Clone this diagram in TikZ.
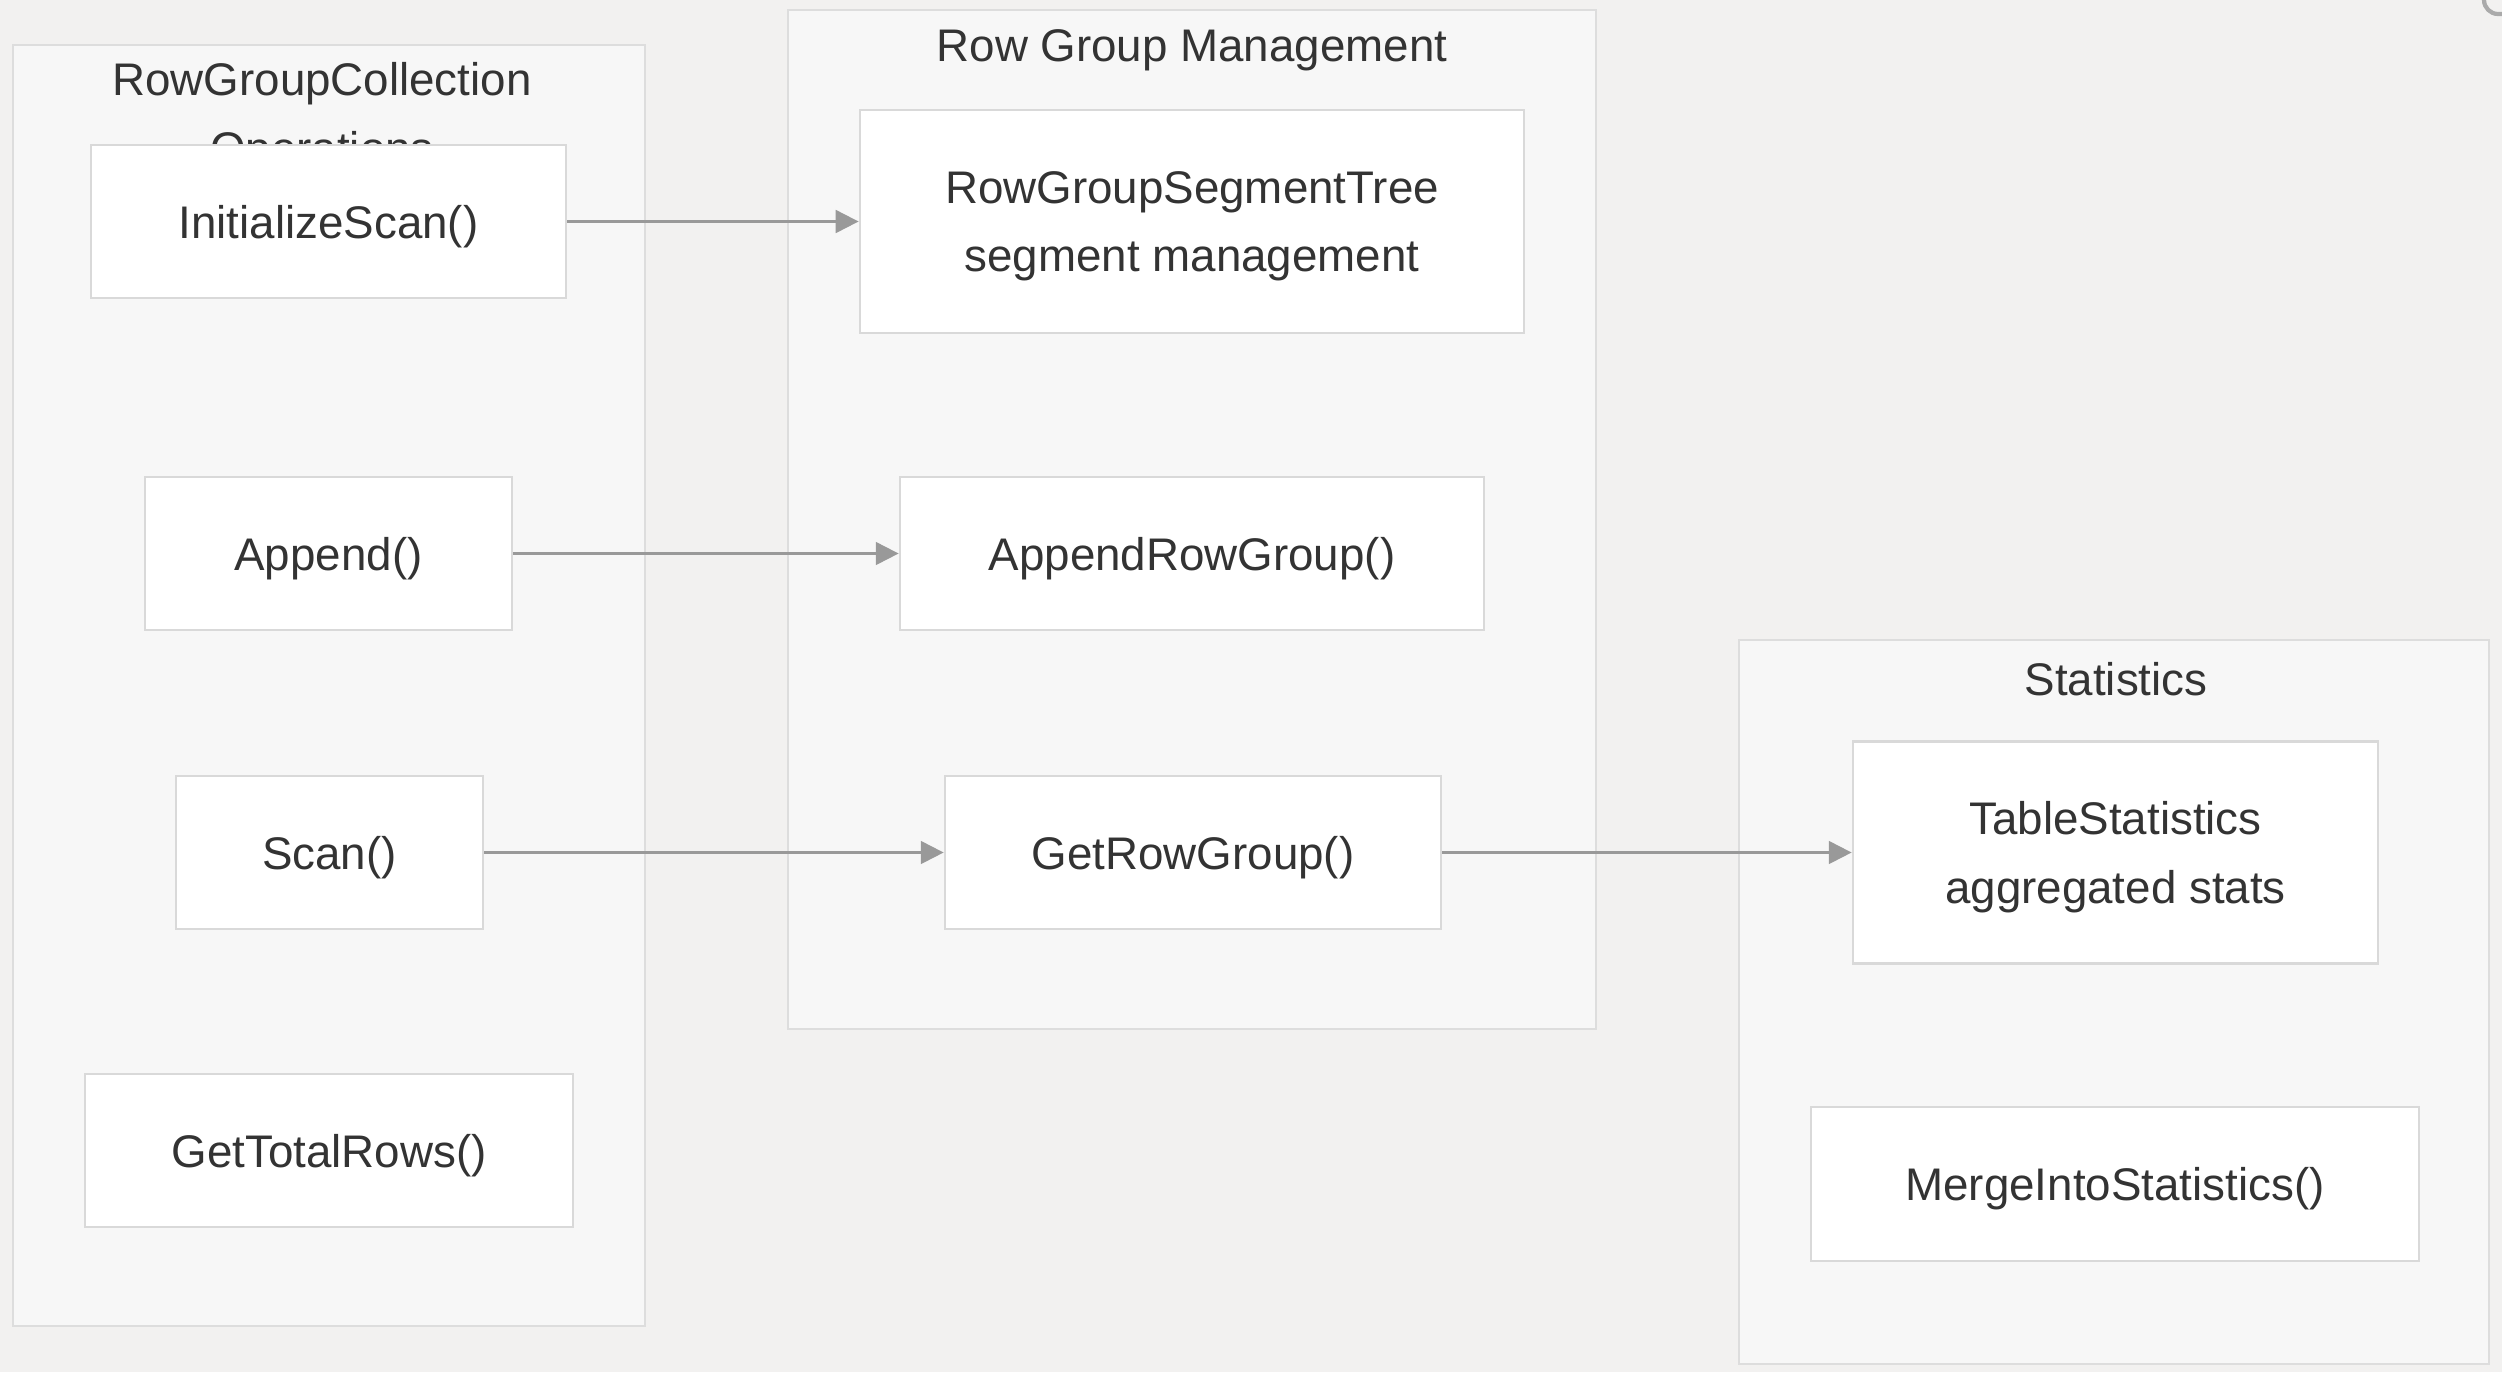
\documentclass[tikz,border=0pt]{standalone}
\usepackage{fontspec}
\setmainfont{Liberation Sans}
\usetikzlibrary{arrows.meta}
\definecolor{bgc}{HTML}{F2F1F0}
\definecolor{clfill}{HTML}{F7F7F7}
\definecolor{cldraw}{HTML}{DDDDDD}
\definecolor{nddraw}{HTML}{D9D9D9}
\definecolor{txt}{HTML}{333333}
\definecolor{edge}{HTML}{999999}
\definecolor{icon}{HTML}{AAAAAA}
\tikzset{
  cluster/.style={fill=clfill, draw=cldraw, line width=0.7pt},
  cltitle/.style={text=txt, font=\fontsize{13}{16}\selectfont, inner sep=0pt},
  box/.style={rectangle, fill=white, draw=nddraw, line width=0.7pt, text=txt,
    font=\fontsize{13}{19.6}\selectfont, align=center, inner sep=0pt, text depth=-0.5pt},
  flow/.style={draw=edge, line width=0.6pt, -{Triangle[width=6.5pt,length=6.5pt]}}
}
\begin{document}
\begin{tikzpicture}[x=0.01cm, y=-0.01cm]
\useasboundingbox[fill=bgc] (0,0) rectangle (2502,1372);
% corner icon (partly outside the frame)
\draw[icon, line width=1.2pt, rounded corners=4pt] (2484,-20) rectangle (2530,14);
% clusters
\draw[cluster] (13,45) rectangle (645,1326);
\draw[cluster] (788,10) rectangle (1596,1029);
\draw[cluster] (1739,640) rectangle (2489,1364);
\node[cltitle] (t1) at (322,84) {RowGroupCollection};
\node[cltitle] (t1b) at (322,153) {Operations};
\node[cltitle] (t2) at (1192,50) {Row Group Management};
\node[cltitle] (t3) at (2116,679) {Statistics};
% nodes
\node[box, minimum width=4.75cm, minimum height=1.53cm] (init) at (328.5,221.5) {InitializeScan()};
\node[box, minimum width=3.67cm, minimum height=1.53cm] (app) at (328.5,553.5) {Append()};
\node[box, minimum width=3.07cm, minimum height=1.53cm] (scan) at (329.5,852.5) {Scan()};
\node[box, minimum width=4.88cm, minimum height=1.53cm] (total) at (329,1150.5) {GetTotalRows()};
\node[box, minimum width=6.64cm, minimum height=2.23cm] (seg) at (1192,221.5) {RowGroupSegmentTree\\segment management};
\node[box, minimum width=5.84cm, minimum height=1.53cm] (apprg) at (1192,553.5) {AppendRowGroup()};
\node[box, minimum width=4.96cm, minimum height=1.53cm] (getrg) at (1193,852.5) {GetRowGroup()};
\node[box, minimum width=5.25cm, minimum height=2.22cm] (tstat) at (2115.5,852.5) {TableStatistics\\aggregated stats};
\node[box, minimum width=6.08cm, minimum height=1.54cm] (merge) at (2115,1184) {MergeIntoStatistics()};
% edges
\draw[flow] (init) -- (seg);
\draw[flow] (app) -- (apprg);
\draw[flow] (scan) -- (getrg);
\draw[flow] (getrg) -- (tstat);
\end{tikzpicture}
\end{document}
